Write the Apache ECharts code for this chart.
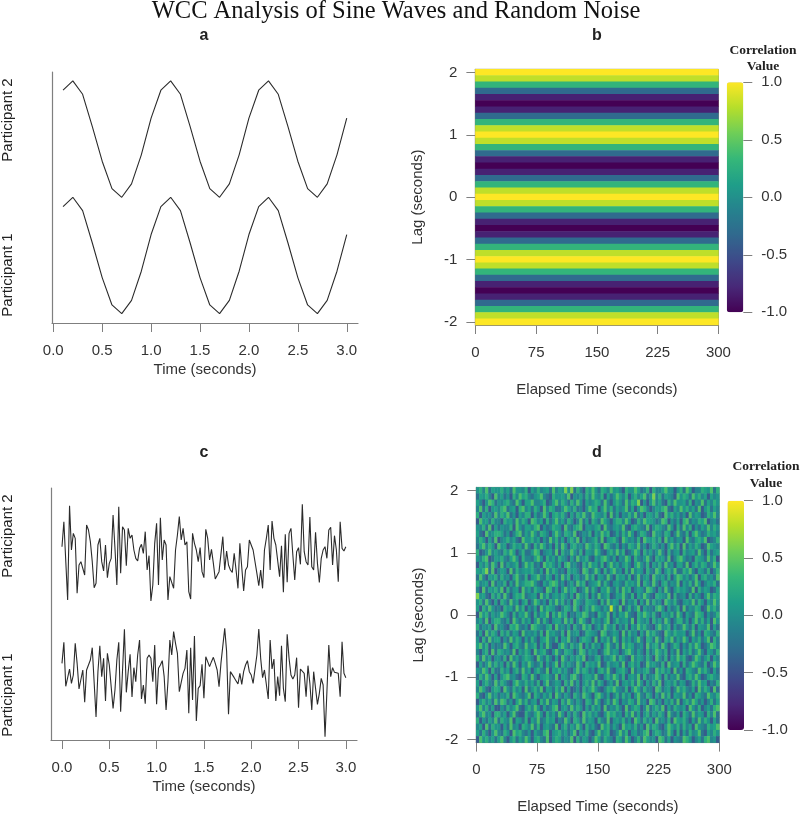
<!DOCTYPE html>
<html>
<head>
<meta charset="utf-8">
<style>html,body{margin:0;padding:0;background:#fff}#c{width:800px;height:816px}</style>
<script src="https://cdn.jsdelivr.net/npm/echarts@6/dist/echarts.min.js"></script>
</head>
<body>
<div id="c"></div>
<script>
// Panel a: sine waves
const sineTime = [0.1,0.2,0.3,0.4,0.5,0.6,0.7,0.8,0.9,1.0,1.1,1.2,1.3,1.4,1.5,1.6,1.7,1.8,1.9,2.0,2.1,2.2,2.3,2.4,2.5,2.6,2.7,2.8,2.9,3.0];
const sineP1 = [0.84,1,0.77,0.21,-0.38,-0.85,-1,-0.77,-0.27,0.36,0.84,1,0.77,0.21,-0.38,-0.85,-1,-0.77,-0.27,0.36,0.84,1,0.77,0.21,-0.38,-0.85,-1,-0.77,-0.27,0.36];
const sineP2 = [0.84,1,0.77,0.21,-0.38,-0.85,-1,-0.77,-0.27,0.36,0.84,1,0.77,0.21,-0.38,-0.85,-1,-0.77,-0.27,0.36,0.84,1,0.77,0.21,-0.38,-0.85,-1,-0.77,-0.27,0.36];
const sineOffset = 2;

// Panel c: random noise, one sample per 0.02 s
const noiseStep = 0.02;
const noiseP2 = [1.65,2.40,2.35,0.05,2.88,1.55,2.05,1.90,0.25,1.10,1.20,1.20,0.80,2.30,2.15,1.80,1.20,0.42,0.55,1.70,1.90,1.20,0.92,1.70,0.72,1.15,1.30,2.60,1.60,0.50,2.85,0.85,2.25,2.15,1.08,2.20,1.90,2.00,1.55,1.30,1.22,1.60,1.72,1.45,2.10,0.95,1.38,0.02,0.50,1.75,2.35,0.50,2.52,1.25,1.85,1.70,0.05,0.75,0.75,0.40,1.55,2.00,2.55,1.85,2.20,1.70,1.80,0.30,0.08,2.05,1.75,1.55,1.20,1.62,0.90,0.72,2.17,1.90,1.25,1.57,1.15,0.68,0.68,0.90,0.95,1.95,0.95,1.52,1.10,0.95,0.88,1.45,0.95,0.40,1.75,1.70,0.32,0.95,1.05,1.85,1.85,1.55,1.50,0.85,0.48,0.95,0.40,1.55,1.90,2.30,0.95,2.42,1.90,1.70,1.70,0.75,1.68,0.28,2.02,0.58,2.05,2.20,1.40,0.65,1.50,1.62,1.12,2.92,1.50,1.20,1.10,2.54,1.05,0.95,2.08,1.15,0.58,1.30,1.55,1.65,1.30,2.15,2.23,1.10,1.98,1.55,0.60,2.40,1.60,1.52,1.65];
const noiseP1 = [2.15,2.78,1.46,1.46,1.98,1.55,1.80,2.75,2.15,1.38,1.38,1.95,0.98,1.95,2.10,2.25,2.62,2.62,0.54,1.90,2.68,1.75,2.30,1.02,2.45,2.10,2.10,0.80,1.35,2.25,2.78,0.70,0.70,3.17,1.28,1.90,2.42,1.14,2.02,1.60,2.40,2.85,1.08,1.50,0.94,2.30,2.40,2.30,1.60,2.70,0.92,2.00,2.10,2.23,1.75,0.75,1.60,2.85,2.40,3.10,2.75,2.45,1.30,1.35,1.85,2.00,2.55,0.65,2.62,1.05,2.97,0.42,1.40,1.48,2.12,1.10,2.35,2.35,2.05,2.20,2.33,2.15,1.95,1.45,2.15,2.15,3.20,2.50,0.62,1.90,1.90,1.72,1.70,1.53,1.85,1.52,1.90,2.10,2.23,1.90,1.80,1.55,1.60,2.40,3.18,2.30,1.72,1.95,1.95,1.08,2.85,1.98,2.28,1.02,1.75,1.18,2.68,1.40,1.00,3.02,2.30,1.80,1.68,1.80,2.32,0.82,1.98,2.00,1.85,1.15,2.08,1.55,0.75,1.90,1.40,0.92,1.25,1.70,1.50,-0.05,1.30,2.70,1.75,2.02,1.88,1.92,1.85,1.15,2.80,1.85,1.72];
const noiseOffset = 4;

// Panel b: correlation per lag, top row (lag 2.0) to bottom row (lag -2.0)
const sineLagValues = [1,0.81,0.31,-0.31,-0.81,-1,-0.81,-0.31,0.31,0.81,1,0.81,0.31,-0.31,-0.81,-1,-0.81,-0.31,0.31,0.81,1,0.81,0.31,-0.31,-0.81,-1,-0.81,-0.31,0.31,0.81,1,0.81,0.31,-0.31,-0.81,-1,-0.81,-0.31,0.31,0.81,1];

// Panel d: hand-estimated correlation levels (0-9), top row to bottom row, 80 windows.
// The individual cells are too fine to read exactly: the texture and the
// brightest and darkest spots follow the picture, the other cells are estimates.
const noiseLevelValues = [-0.7,-0.42,-0.24,-0.08,0.04,0.14,0.26,0.42,0.6,0.8];
const noiseRows = [
"4637254463 5274436153 6345273548 4826316474 2653745316 4475236163 3574414627 5133654726",
"2546317352 4163756324 5732164453 7143526374 3615247536 1463572483 6254317465 2746351534",
"5314762435 6327415573 3461257364 2637415346 5273146427 3658141473 5216374452 6143725364",
"3726145367 2451673526 4173652247 5362314756 1473625347 2514763135 4672153746 3527146253",
"6153427364 7241536615 2374156463 1526473275 4361725143 6372415536 2174635241 7354126473",
"1745263316 4527364176 3516247352 6413725164 2753146637 4126375542 3761425167 2436571342",
"4362715243 3617425536 7142365417 3256714435 6173245372 1564327146 5327416273 6142537364",
"5217346652 4136725374 2653147426 5371243615 3746125263 7413652174 4265137326 1574236453",
"3641527134 6352174463 5142736251 4637152346 2714563175 3426175463 6173524417 3256471236",
"2573641745 1364527316 3752416274 1563427536 4176325142 6537241364 2415736172 5364127543",
"6124735326 4751362247 6134527163 3742615437 5214637361 2475163524 7316245163 4527316245",
"4367125463 2574163325 7416352643 1527346215 3674251437 5163247316 4527136742 3165427361",
"1536274172 5346137462 3175642516 7342163745 2614735246 3157426153 6273415527 1463652374",
"5468271354 1726345463 2517364231 6453176237 4162573416 2735416327 5146372264 7315426136",
"2731546263 4157326145 7326415273 6145237361 5427316452 6137245174 3526147635 2471563427",
"6345172436 1527346674 2153676241 3527461345 7263145326 4537164273 1562437153 6274135462",
"3172546371 6245173526 4317625147 3561247263 1547326274 6135427631 5273146453 2716354125",
"8452163627 3146572345 1736245364 2517436152 7346125473 2615374216 5437162341 6253147365",
"4627315164 2735146137 5241637362 4175326543 1627354172 4361527263 4175362145 3726415374",
"5163742316 4527361425 1736542136 5274136375 4253942713 6247153326 7415236172 4365127463",
"1746253475 3162547316 2547163746 1325476231 6437152547 3216475362 1543627415 3276514236",
"3527146632 5174263514 7263145527 3614752163 4257136345 2716435163 5274136625 1473625174",
"6243517342 1657324176 4325617342 5163274613 5274361426 1537463215 7346152374 2615437152",
"2517364163 6254173435 2617453261 7345126543 1762354172 6341527463 2175364451 3724165326",
"4162735514 2736415263 1457326154 7231465417 1536274163 5247316527 3164725374 1536247163",
"5736142327 4156327346 1527311574 2634715263 4157326174 6523417356 2741365142 6375124763",
"3146172653 4271536417 3562147326 5413762534 1267354136 7425316247 5361427153 6247315426",
"6273514426 1735246531 7426315174 2536471325 6143572642 1735426317 4261537462 1375246153",
"1524736351 6274153742 3615247163 5327416453 7126345271 4635127453 2617345162 4753261374",
"4375162263 5146273514 6327154635 2147365241 5637214563 1724356217 4635172416 5327463152",
"2637415146 7342165273 1456327154 2673145537 2146375261 4537162347 5162437215 6374125643",
"5146327364 2157436352 6147235416 3725146372 6413527145 3627415263 7145362541 2637451326",
"3752146517 4263517246 3715426371 5124163574 2136574326 1475263317 6245137463 2517364172",
"6214735243 6175324716 4253617425 3164275316 7425136263 5147326415 2736154372 4165327436",
"1463527376 2415736245 1637254163 7425316527 4136275143 6527341762 4153627146 3752413625",
"4736251142 6357214637 4152367145 2736415263 5172436317 2465137246 3715264351 7426135267",
"2573416635 1472116325 7416352741 5263174635 2147563416 3725146253 6417325164 2735416372",
"6142537264 3715426153 7236451327 4165273541 6327145362 4175263517 3426175463 1527364152",
"3517264415 2734165372 6145327146 2537416352 1746253174 5362417365 2147536263 5174326457",
"5263147326 4175632415 3267145635 2471536214 7356124736 1452367146 5237416152 6347215364",
"1746352573 1462537415 6327146524 3716254137 5264316527 4136275341 7625143276 4135267341"
];
const timeTicks = [0,0.5,1,1.5,2,2.5,3];
const elapsedTicks = [0,75,150,225,300];
const lagTicks = [-2,-1,0,1,2];
const viridis = ['#440154','#482878','#3e4989','#31688e','#26828e','#1f9e89','#35b779','#6ece58','#b5de2b','#fde725'];

const WIN = 80, ROWS = 41;
const winCats = Array.from({length: WIN}, (_, i) => String(i));
const wholeSpan = ['0-300'];
const lagCats = Array.from({length: ROWS}, (_, i) => String(i));
const stripeData = sineLagValues.map((v, r) => [0, ROWS - 1 - r, v]);
const noiseData = [];
noiseRows.forEach((s, r) => {
  const digits = s.replace(/ /g, '');
  for (let c = 0; c < WIN; c++) noiseData.push([c, ROWS - 1 - r, noiseLevelValues[+(digits[c] || 4)]]);
});

const SANS = '"Liberation Sans", Arial, sans-serif', SERIF = '"Liberation Serif", "Times New Roman", serif';
const INK = '#333', AX = '#7f7f7f';
const axLine = {show: true, onZero: false, lineStyle: {color: AX, width: 1.2}};
const tick = v => ({show: true, length: 9, customValues: v, lineStyle: {color: AX, width: 1}});
const lbl = (v, fmt, m) => ({show: true, customValues: v, formatter: fmt, margin: m, color: INK, fontFamily: SANS, fontSize: 15, hideOverlap: false, showMinLabel: true, showMaxLabel: true});
const nameStyle = {color: INK, fontFamily: SANS, fontSize: 15};
const hiddenCat = (data, pos, grid) => ({type: 'category', data, gridIndex: grid, position: pos, show: false});
const timeAxis = (grid, min, max) => ({type: 'value', gridIndex: grid, position: 'bottom', min, max, axisLine: axLine, axisTick: tick(timeTicks), splitLine: {show: false}, axisLabel: lbl(timeTicks, v => v.toFixed(1), 20), name: 'Time (seconds)', nameLocation: 'middle', nameGap: 39, nameTextStyle: nameStyle});
const elapsedAxis = grid => ({type: 'value', gridIndex: grid, position: 'bottom', min: 0, max: 300, axisLine: axLine, axisTick: tick(elapsedTicks), splitLine: {show: false}, axisLabel: lbl(elapsedTicks, v => String(v), 20), name: 'Elapsed Time (seconds)', nameLocation: 'middle', nameGap: 57, nameTextStyle: nameStyle});
const lagAxis = grid => ({type: 'value', gridIndex: grid, position: 'left', min: -2.05, max: 2.05, axisLine: axLine, axisTick: tick(lagTicks), splitLine: {show: false}, axisLabel: lbl(lagTicks, v => String(v), 18), name: 'Lag (seconds)', nameLocation: 'middle', nameGap: 50, nameTextStyle: nameStyle});
const blankY = (grid, min, max) => ({type: 'value', gridIndex: grid, position: 'left', min, max, axisLine: axLine, axisTick: {show: false}, axisLabel: {show: false}, splitLine: {show: false}});
const barAxis = grid => ({type: 'value', gridIndex: grid, position: 'right', min: -1, max: 1, interval: 0.5, axisLine: {show: false, onZero: false}, axisTick: {show: true, length: 9, lineStyle: {color: AX}}, splitLine: {show: false}, axisLabel: {show: true, formatter: v => v.toFixed(1), margin: 18, color: INK, fontFamily: SANS, fontSize: 15}});
const barX = grid => ({type: 'value', gridIndex: grid, min: 0, max: 1, show: false});
const line = (data, xi, yi) => ({type: 'line', xAxisIndex: xi, yAxisIndex: yi, data, symbol: 'none', silent: true, lineStyle: {color: '#2b2b2b', width: 1.1}});
const heat = (data, xi, yi) => ({type: 'heatmap', xAxisIndex: xi, yAxisIndex: yi, data, silent: true, progressive: 0, itemStyle: {borderWidth: 0}, emphasis: {disabled: true}});
const bar = (si, top, h, left, w) => ({type: 'continuous', seriesIndex: si, min: -1, max: 1, left, top, itemWidth: w, itemHeight: h, padding: 0, calculable: false, hoverLink: false, text: null, inRange: {color: viridis}, textStyle: {fontSize: 1}});
const txt = (text, x, y, font, rot) => ({type: 'text', x, y, rotation: rot || 0, silent: true, style: {text, font, fill: '#222', textAlign: 'center', textVerticalAlign: 'middle'}});

const chart = echarts.init(document.getElementById('c'), null, {renderer: 'canvas'});
chart.setOption({
  animation: false,
  backgroundColor: '#fff',
  title: {text: 'WCC Analysis of Sine Waves and Random Noise', left: 396, top: -1, textAlign: 'center', padding: 0, textStyle: {fontFamily: SERIF, fontWeight: 'normal', fontSize: 24.5, color: '#111'}},
  grid: [
    {left: 52, top: 72, width: 306, height: 251},
    {left: 475.4, top: 69.3, width: 243, height: 255.7, show: true, borderColor: '#8a8a6a', borderWidth: 1},
    {left: 51, top: 488, width: 306, height: 252},
    {left: 476.3, top: 487.4, width: 243, height: 255.2, show: true, borderColor: '#7a9a8a', borderWidth: 1},
    {left: 726.8, top: 82.3, width: 16.5, height: 230},
    {left: 727.5, top: 500.7, width: 16.5, height: 229.3}
  ],
  xAxis: [
    timeAxis(0, -0.013, 3.115),
    hiddenCat(wholeSpan, 'bottom', 1),
    elapsedAxis(1),
    timeAxis(2, -0.116, 3.118),
    hiddenCat(winCats, 'bottom', 3),
    elapsedAxis(3),
    barX(4),
    barX(5)
  ],
  yAxis: [
    blankY(0, -1.16, 3.153),
    hiddenCat(lagCats, 'left', 1),
    lagAxis(1),
    blankY(2, -0.15, 7.41),
    hiddenCat(lagCats, 'left', 3),
    lagAxis(3),
    barAxis(4),
    barAxis(5)
  ],
  visualMap: [bar(2, 82.3, 230, 726.8, 16.5), bar(5, 500.7, 229.3, 727.5, 16.5)],
  series: [
    line(sineTime.map((t, i) => [t, sineP1[i]]), 0, 0),
    line(sineTime.map((t, i) => [t, sineP2[i] + sineOffset]), 0, 0),
    heat(stripeData, 1, 1),
    line(noiseP1.map((v, i) => [i * noiseStep, v]), 3, 3),
    line(noiseP2.map((v, i) => [i * noiseStep, v + noiseOffset]), 3, 3),
    heat(noiseData, 4, 4)
  ],
  graphic: {elements: [
    txt('a', 204, 36, 'bold 16px ' + SANS),
    txt('b', 597, 36, 'bold 16px ' + SANS),
    txt('c', 204, 453, 'bold 16px ' + SANS),
    txt('d', 597, 453, 'bold 16px ' + SANS),
    txt('Participant 2', 8, 120, '15px ' + SANS, Math.PI / 2),
    txt('Participant 1', 8, 275, '15px ' + SANS, Math.PI / 2),
    txt('Participant 2', 8, 536, '15px ' + SANS, Math.PI / 2),
    txt('Participant 1', 8, 695, '15px ' + SANS, Math.PI / 2),
    txt('Correlation', 763, 50.5, 'bold 13.5px ' + SERIF),
    txt('Value', 763, 67, 'bold 13.5px ' + SERIF),
    txt('Correlation', 766, 467, 'bold 13.5px ' + SERIF),
    txt('Value', 766, 484, 'bold 13.5px ' + SERIF)
  ]}
});
</script>
</body>
</html>
